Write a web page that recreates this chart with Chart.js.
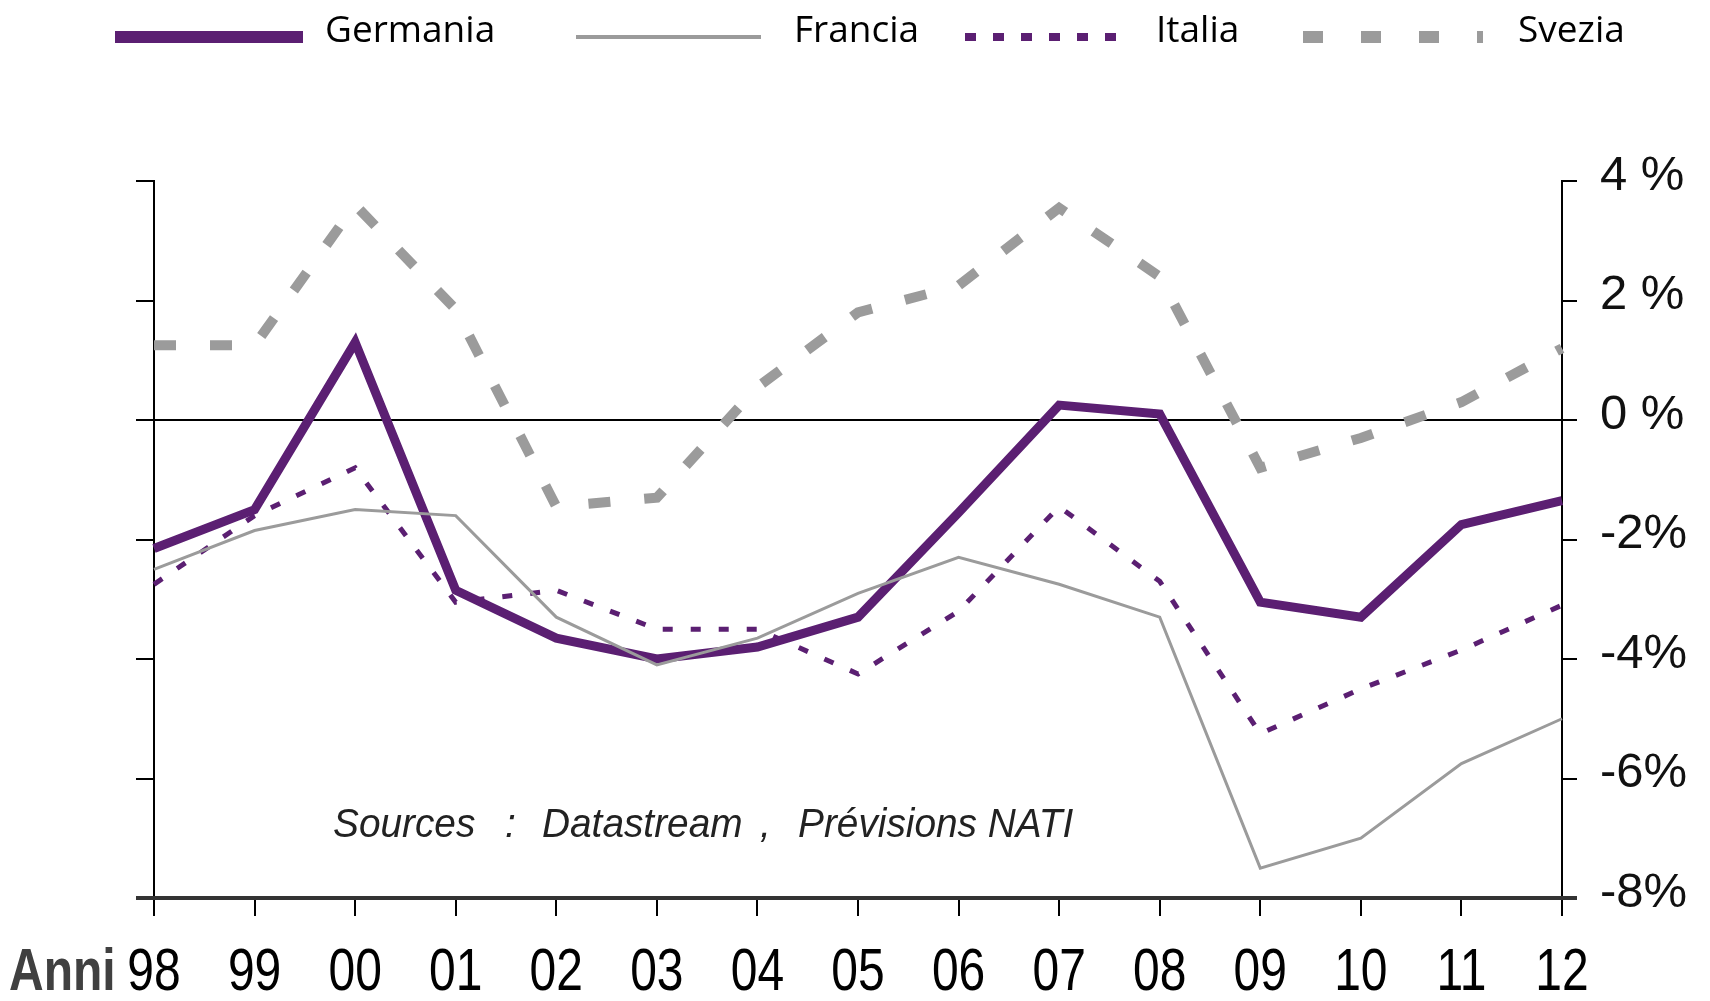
<!DOCTYPE html>
<html>
<head>
<meta charset="utf-8">
<script src="https://cdn.jsdelivr.net/npm/chart.js@4"></script>
<style>
  html, body { margin: 0; padding: 0; background: #fff; }
  #wrap { width: 1710px; height: 1001px; position: relative; }
</style>
</head>
<body>
<div id="wrap"><canvas id="growthChart"></canvas></div>
<script>
// anni e valori (%)
const years = ['98', '99', '00', '01', '02', '03', '04', '05', '06', '07', '08', '09', '10', '11', '12'];
const germania = [-2.15, -1.5, 1.3, -2.85, -3.65, -4.0, -3.8, -3.3, -1.55, 0.25, 0.1, -3.05, -3.3, -1.75, -1.35];
const francia  = [-2.5, -1.85, -1.5, -1.6, -3.3, -4.1, -3.65, -2.9, -2.3, -2.75, -3.3, -7.5, -7.0, -5.75, -5.0];
const italia   = [-2.75, -1.6, -0.8, -3.05, -2.85, -3.5, -3.5, -4.25, -3.2, -1.45, -2.7, -5.25, -4.5, -3.85, -3.1];
const svezia   = [1.25, 1.25, 3.6, 1.85, -1.45, -1.3, 0.55, 1.8, 2.25, 3.55, 2.4, -0.8, -0.3, 0.3, 1.2];
const yTicks = [4, 2, 0, -2, -4, -6, -8];

const PURPLE = '#5b1f72';
const GREY = '#9b9b9b';

const legendItems = [
  { label: 'Germania', x0: 115, x1: 303, tx: 325, color: PURPLE, width: 12, dash: [] },
  { label: 'Francia',  x0: 576, x1: 761, tx: 794, color: GREY, width: 4, dash: [] },
  { label: 'Italia',   x0: 965, x1: 1123, tx: 1156, color: PURPLE, width: 8, dash: [11, 17] },
  { label: 'Svezia',   x0: 1303, x1: 1483, tx: 1518, color: GREY, width: 12, dash: [20, 38] }
];

// testo stretto (non c'e' un font condensed installato)
function narrowText(ctx, text, x, y, sx) {
  ctx.save();
  ctx.translate(x, y);
  ctx.scale(sx, 1);
  ctx.fillText(text, 0, 0);
  ctx.restore();
}

const decorations = {
  id: 'decorations',
  afterDraw(chart) {
    const ctx = chart.ctx;
    const area = chart.chartArea;
    ctx.save();

    // legenda in alto
    legendItems.forEach(item => {
      ctx.beginPath();
      ctx.strokeStyle = item.color;
      ctx.lineWidth = item.width;
      ctx.setLineDash(item.dash);
      ctx.moveTo(item.x0, 37);
      ctx.lineTo(item.x1, 37);
      ctx.stroke();
      ctx.setLineDash([]);
      ctx.fillStyle = '#000';
      ctx.font = '37px "Open Sans"';
      ctx.textBaseline = 'middle';
      ctx.textAlign = 'left';
      ctx.fillText(item.label, item.tx, 31);
    });

    // asse orizzontale spesso
    ctx.beginPath();
    ctx.strokeStyle = '#333';
    ctx.lineWidth = 4;
    ctx.moveTo(area.left - 18, area.bottom);
    ctx.lineTo(area.right + 15, area.bottom);
    ctx.stroke();

    // etichette anni
    const xs = chart.scales.x;
    ctx.fillStyle = '#000';
    ctx.font = '60px "Liberation Sans", Arial';
    ctx.textAlign = 'center';
    ctx.textBaseline = 'middle';
    years.forEach((lab, i) => narrowText(ctx, lab, xs.getPixelForValue(i), 973, 0.8));

    // etichetta asse x
    ctx.fillStyle = '#404040';
    ctx.font = 'bold 60px "Liberation Sans", Arial';
    ctx.textAlign = 'left';
    narrowText(ctx, 'Anni', 9, 973, 0.8);

    // fonti
    ctx.beginPath();
    ctx.rect(area.left, area.top, 1074 - area.left, area.bottom - area.top);
    ctx.clip();
    ctx.fillStyle = '#222';
    ctx.font = 'italic 40px "Liberation Sans", Arial';
    ctx.textBaseline = 'alphabetic';
    [['Sources', 333], [':', 505], ['Datastream', 542], [',', 760], ['Prévisions NATI', 798]].forEach(p => {
      narrowText(ctx, p[0], p[1], 837, 0.97);
    });
    ctx.restore();
  }
};

const ctx = document.getElementById('growthChart').getContext('2d');
new Chart(ctx, {
  type: 'line',
  data: {
    labels: years,
    datasets: [
      { label: 'Francia', data: francia, borderColor: GREY, borderWidth: 3, order: 0, yAxisID: 'y' },
      { label: 'Germania', data: germania, borderColor: PURPLE, borderWidth: 9, order: 1, yAxisID: 'y' },
      { label: 'Italia', data: italia, borderColor: PURPLE, borderWidth: 5, borderDash: [10, 18], order: 2, yAxisID: 'y' },
      { label: 'Svezia', data: svezia, borderColor: GREY, borderWidth: 10, borderDash: [22, 34], order: 3, yAxisID: 'y' }
    ]
  },
  options: {
    responsive: true,
    maintainAspectRatio: false,
    animation: false,
    elements: { point: { radius: 0 }, line: { tension: 0, borderCapStyle: 'butt', borderJoinStyle: 'miter' } },
    layout: { padding: { top: 181, left: 0, right: 0, bottom: 0 } },
    plugins: { legend: { display: false }, tooltip: { enabled: false } },
    scales: {
      x: {
        type: 'category',
        offset: false,
        grid: { drawOnChartArea: false, tickLength: 18, color: '#000', lineWidth: 2 },
        border: { display: false },
        ticks: { display: false, autoSkip: false, maxRotation: 0 },
        afterFit(scale) { scale.height = 103; }
      },
      y: {
        position: 'left',
        min: -8, max: 4,
        grid: {
          drawOnChartArea: true, tickLength: 18, tickColor: '#000', tickWidth: 2,
          color: c => (c.tick && c.tick.value === 0 ? '#000' : 'rgba(0,0,0,0)'), lineWidth: 2
        },
        border: { display: true, color: '#000', width: 2 },
        ticks: { display: false, stepSize: 2 },
        afterFit(scale) { scale.width = 154; }
      },
      y2: {
        position: 'right',
        min: -8, max: 4,
        grid: { drawOnChartArea: false, tickLength: 15, color: '#000', lineWidth: 2 },
        border: { display: true, color: '#000', width: 2 },
        ticks: {
          stepSize: 2, padding: 23, color: '#111', labelOffset: -5,
          font: { family: '"Liberation Sans", Arial', size: 49 },
          callback: v => (yTicks.includes(v) ? (v >= 0 ? v + ' %' : v + '%') : '')
        },
        afterFit(scale) { scale.width = 148; }
      }
    }
  },
  plugins: [decorations]
});
</script>
</body>
</html>
